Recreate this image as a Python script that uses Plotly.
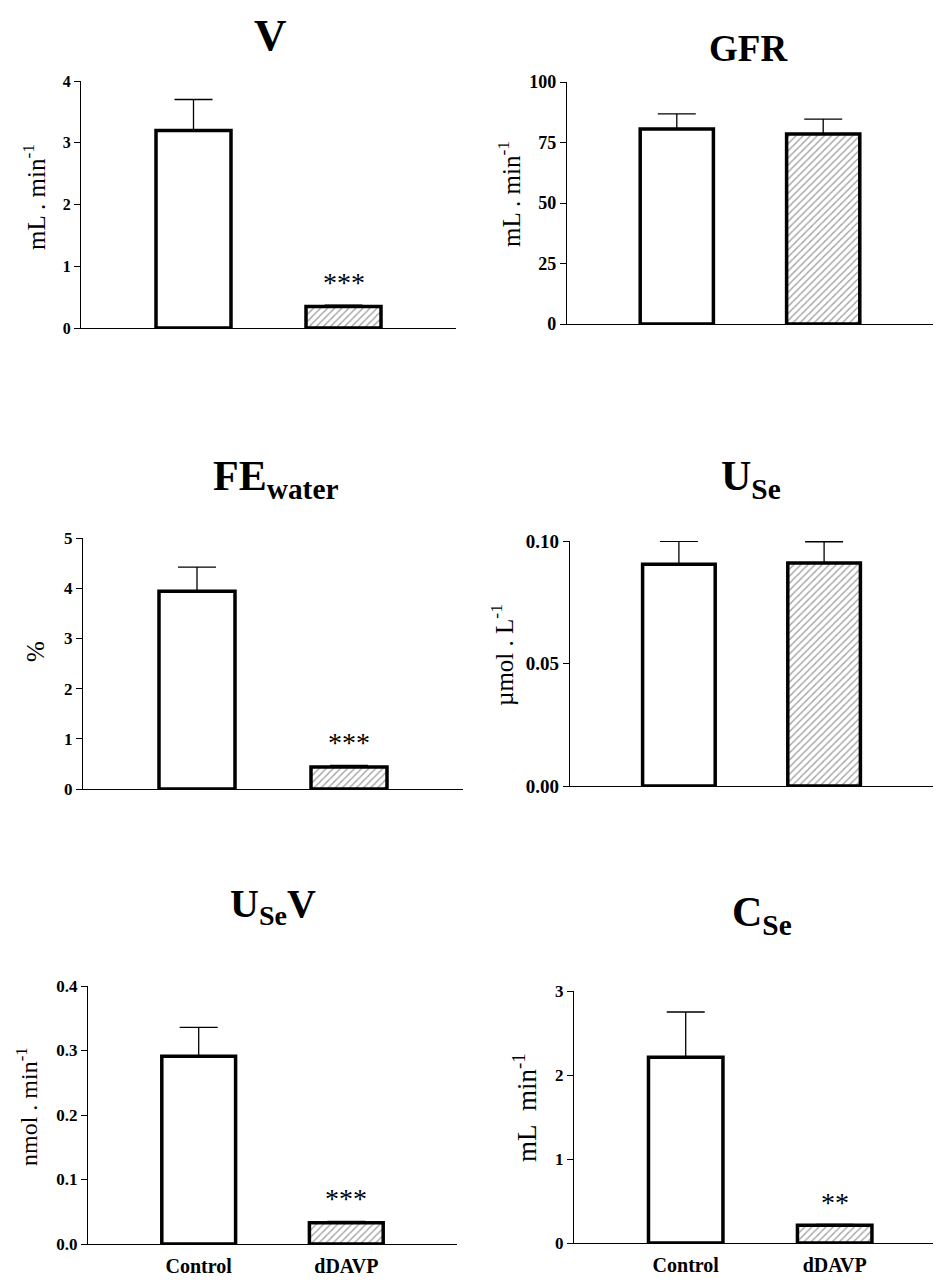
import plotly.graph_objects as go

# page body adds an 8px margin, so the figure is sized to fit the 941x1285 window
PAGE_W, PAGE_H = 941, 1285
OFF = 8
W, H = PAGE_W - 2 * OFF, PAGE_H - 2 * OFF

# ---------------- data ----------------
categories = ["Control", "dDAVP"]

v_mean = [3.20, 0.35]
v_sem = [0.50, 0.02]
v_sig = ["", "***"]

gfr_mean = [80.6, 78.5]
gfr_sem = [6.2, 6.2]
gfr_sig = ["", ""]

fe_mean = [3.94, 0.44]
fe_sem = [0.48, 0.03]
fe_sig = ["", "***"]

use_mean = [0.0905, 0.0910]
use_sem = [0.0094, 0.0087]
use_sig = ["", ""]

usev_mean = [0.291, 0.033]
usev_sem = [0.045, 0.002]
usev_sig = ["", "***"]

cse_mean = [2.21, 0.21]
cse_sem = [0.54, 0.01]
cse_sig = ["", "**"]

SERIF = "Liberation Serif"


def px_x(p):
    return min(max((p - OFF) / W, 0), 1)


def px_y(p):
    return min(max(1 - (p - OFF) / H, 0), 1)


# tpos: (x centre, y) ; tanchor: vertical anchor of the title box
panels = [
    dict(mean=v_mean, sem=v_sem, sig=v_sig, title="V", tsize=45, tpos=(270, 8), tanchor="top",
         ytitle="mL . min<sup>-1</sup>", ysize=25, ypos=(34, 197),
         yrange=[0, 4], tickvals=[0, 1, 2, 3, 4], fmt="d", tfs=16,
         dom=(81, 456, 81, 328), xr=[-0.75, 1.75], xlabels=False),
    dict(mean=gfr_mean, sem=gfr_sem, sig=gfr_sig, title="GFR", tsize=37, tpos=(748, 48), tanchor="middle",
         ytitle="mL . min<sup>-1</sup>", ysize=25, ypos=(509, 194),
         yrange=[0, 100], tickvals=[0, 25, 50, 75, 100], fmt="d", tfs=18,
         dom=(567, 933, 82, 324), xr=[-0.75, 1.75], xlabels=False),
    dict(mean=fe_mean, sem=fe_sem, sig=fe_sig, title="FE<sub>water</sub>", tsize=42, tpos=(275, 479), tanchor="middle",
         ytitle="%", ysize=25, ypos=(35, 652),
         yrange=[0, 5], tickvals=[0, 1, 2, 3, 4, 5], fmt="d", tfs=17,
         dom=(83, 463, 538, 789), xr=[-0.75, 1.75], xlabels=False),
    dict(mean=use_mean, sem=use_sem, sig=use_sig, title="U<sub>Se</sub>", tsize=42, tpos=(751, 479), tanchor="middle",
         ytitle="µmol . L<sup>-1</sup>", ysize=25, ypos=(502, 655),
         yrange=[0, 0.1], tickvals=[0, 0.05, 0.1], fmt=".2f", tfs=19,
         dom=(570, 935, 541, 786), xr=[-0.75, 1.75], xlabels=False),
    dict(mean=usev_mean, sem=usev_sem, sig=usev_sig, title="U<sub>Se</sub>V", tsize=40, tpos=(273, 906), tanchor="middle",
         ytitle="nmol . min<sup>-1</sup>", ysize=24, ypos=(27, 1107),
         yrange=[0, 0.4], tickvals=[0, 0.1, 0.2, 0.3, 0.4], fmt=".1f", tfs=17,
         dom=(88, 457, 986, 1244), xr=[-0.75, 1.75], xlabels=True),
    dict(mean=cse_mean, sem=cse_sem, sig=cse_sig, title="C<sub>Se</sub>", tsize=42, tpos=(762, 915), tanchor="middle",
         ytitle="mL\u00a0\u00a0min<sup>-1</sup>", ysize=27, ypos=(525, 1108),
         yrange=[0, 3], tickvals=[0, 1, 2, 3], fmt="d", tfs=17,
         dom=(574, 941, 991, 1243), xr=[-0.75, 1.66], xlabels=True),
]

fig = go.Figure()
layout = dict(
    width=W, height=H,
    margin=dict(l=0, r=0, t=0, b=0, autoexpand=False),
    paper_bgcolor="white", plot_bgcolor="white",
    showlegend=False,
    font=dict(family=SERIF, color="black"),
)
annotations = []

for i, p in enumerate(panels, start=1):
    xa = "x" if i == 1 else f"x{i}"
    ya = "y" if i == 1 else f"y{i}"
    fig.add_trace(go.Bar(
        x=categories, y=p["mean"], xaxis=xa, yaxis=ya,
        width=0.5,
        marker=dict(
            color=["white", "white"],
            line=dict(color="black", width=3.5),
            pattern=dict(shape=["", "/"], fgcolor="#1e1e1e", size=5, solidity=0.28),
        ),
        error_y=dict(type="data", array=p["sem"], arrayminus=[0, 0], symmetric=False,
                     color="black", thickness=1.3, width=19),
    ))
    x0, x1, yt, yb = p["dom"]
    layout["xaxis" if i == 1 else f"xaxis{i}"] = dict(
        domain=[px_x(x0), px_x(x1)], anchor=ya, type="category", range=p["xr"],
        showline=True, linecolor="black", linewidth=1.3, ticks="",
        showticklabels=p["xlabels"], showgrid=False, zeroline=False, automargin=False,
        tickfont=dict(family=SERIF, size=20, weight="bold", color="black"),
        ticklabelstandoff=4,
    )
    layout["yaxis" if i == 1 else f"yaxis{i}"] = dict(
        domain=[px_y(yb), px_y(yt)], anchor=xa, range=p["yrange"],
        tickvals=p["tickvals"], tickformat=p["fmt"],
        showline=True, linecolor="black", linewidth=1.3,
        ticks="outside", ticklen=6, tickwidth=1.3, tickcolor="black",
        showgrid=False, zeroline=False, automargin=False,
        tickfont=dict(family=SERIF, size=p["tfs"], weight="bold", color="black"),
    )
    # title
    tx, ty = p["tpos"]
    annotations.append(dict(
        text=p["title"], x=px_x(tx), y=px_y(ty), xref="paper", yref="paper",
        xanchor="center", yanchor=p["tanchor"], showarrow=False,
        font=dict(family=SERIF, size=p["tsize"], weight="bold", color="black"),
    ))
    # y title
    yx, yy = p["ypos"]
    annotations.append(dict(
        text=p["ytitle"], x=px_x(yx), y=px_y(yy), xref="paper", yref="paper",
        xanchor="center", yanchor="middle", showarrow=False, textangle=-90,
        font=dict(family=SERIF, size=p["ysize"], color="black"),
    ))
    # significance marks
    for c, m, s, sig in zip(categories, p["mean"], p["sem"], p["sig"]):
        if sig:
            annotations.append(dict(
                text=sig, x=c, y=m + s, xref=xa, yref=ya,
                xanchor="center", yanchor="bottom", showarrow=False, yshift=5,
                font=dict(family=SERIF, size=28, color="black"),
            ))

layout["annotations"] = annotations
fig.update_layout(**layout)
fig.write_html("out.html")
